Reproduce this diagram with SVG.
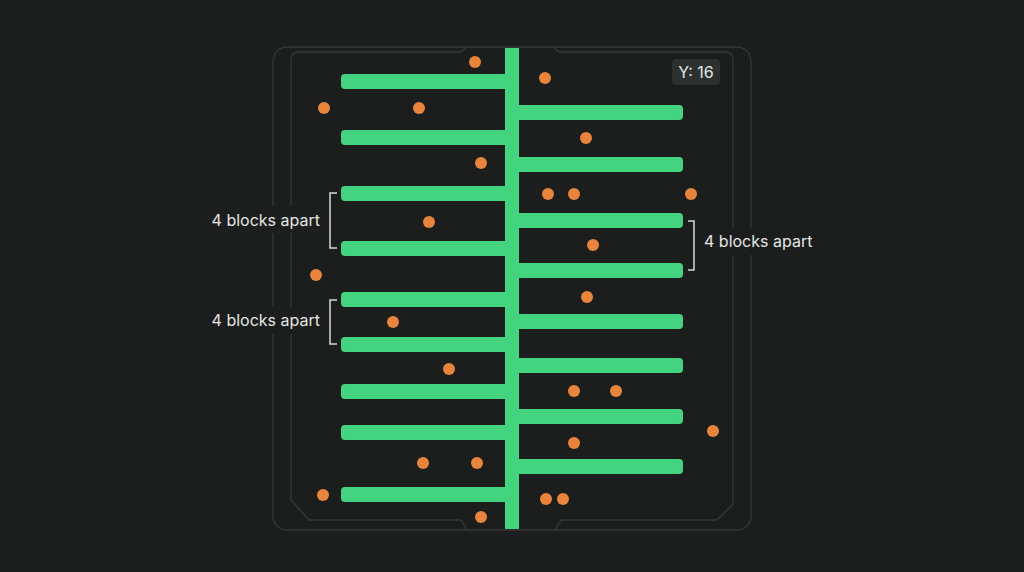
<svg xmlns="http://www.w3.org/2000/svg" width="1024" height="572" viewBox="0 0 1024 572">
<style>
.frame{fill:none;stroke:#343937;stroke-width:1.3}
.bar{fill:#44d480}
.dot{fill:#e8843b}
.br{fill:none;stroke:#d6d8d7;stroke-width:1.5}
.lbl{font-family:Inter,"Liberation Sans",sans-serif;font-size:16px;fill:#e4e6e5}
.bg{fill:#1c1e1d}
</style>
<rect width="1024" height="572" fill="#1c1e1d"/>
<g id="frame">
<rect class="frame" x="273" y="47" width="478" height="483" rx="14"/>
<path class="frame" d="M467,47 L461,52 L299,52 Q291,52 291,60 L291,500 L309,520 L461,520 L467,530"/>
<path class="frame" d="M553,47 L559,52 L725,52 Q733,52 733,60 L733,504 L717,520 L561,520 L555,530"/>
</g>
<g id="trunk"><rect class="bar" x="505" y="48" width="14" height="481"/></g>
<g id="left-bars">
<rect class="bar" x="341" y="74" width="168" height="15" rx="4"/>
<rect class="bar" x="341" y="130" width="168" height="15" rx="4"/>
<rect class="bar" x="341" y="186" width="168" height="15" rx="4"/>
<rect class="bar" x="341" y="241" width="168" height="15" rx="4"/>
<rect class="bar" x="341" y="292" width="168" height="15" rx="4"/>
<rect class="bar" x="341" y="337" width="168" height="15" rx="4"/>
<rect class="bar" x="341" y="384" width="168" height="15" rx="4"/>
<rect class="bar" x="341" y="425" width="168" height="15" rx="4"/>
<rect class="bar" x="341" y="487" width="168" height="15" rx="4"/>
</g>
<g id="right-bars">
<rect class="bar" x="515" y="105" width="168" height="15" rx="4"/>
<rect class="bar" x="515" y="157" width="168" height="15" rx="4"/>
<rect class="bar" x="515" y="213" width="168" height="15" rx="4"/>
<rect class="bar" x="515" y="263" width="168" height="15" rx="4"/>
<rect class="bar" x="515" y="314" width="168" height="15" rx="4"/>
<rect class="bar" x="515" y="358" width="168" height="15" rx="4"/>
<rect class="bar" x="515" y="409" width="168" height="15" rx="4"/>
<rect class="bar" x="515" y="459" width="168" height="15" rx="4"/>
</g>
<g id="dots">
<circle class="dot" cx="475" cy="62" r="6"/>
<circle class="dot" cx="545" cy="78" r="6"/>
<circle class="dot" cx="324" cy="108" r="6"/>
<circle class="dot" cx="419" cy="108" r="6"/>
<circle class="dot" cx="586" cy="138" r="6"/>
<circle class="dot" cx="481" cy="163" r="6"/>
<circle class="dot" cx="548" cy="194" r="6"/>
<circle class="dot" cx="574" cy="194" r="6"/>
<circle class="dot" cx="691" cy="194" r="6"/>
<circle class="dot" cx="429" cy="222" r="6"/>
<circle class="dot" cx="593" cy="245" r="6"/>
<circle class="dot" cx="316" cy="275" r="6"/>
<circle class="dot" cx="587" cy="297" r="6"/>
<circle class="dot" cx="393" cy="322" r="6"/>
<circle class="dot" cx="449" cy="369" r="6"/>
<circle class="dot" cx="574" cy="391" r="6"/>
<circle class="dot" cx="616" cy="391" r="6"/>
<circle class="dot" cx="713" cy="431" r="6"/>
<circle class="dot" cx="574" cy="443" r="6"/>
<circle class="dot" cx="423" cy="463" r="6"/>
<circle class="dot" cx="477" cy="463" r="6"/>
<circle class="dot" cx="323" cy="495" r="6"/>
<circle class="dot" cx="546" cy="499" r="6"/>
<circle class="dot" cx="563" cy="499" r="6"/>
<circle class="dot" cx="481" cy="517" r="6"/>
</g>
<g id="label-left-1">
<rect class="bg" x="207" y="206" width="116" height="27"/>
<path class="br" d="M337,193 H330 V248 H337"/>
<text class="lbl" x="320" y="226" text-anchor="end">4 blocks apart</text>
</g>
<g id="label-left-2">
<rect class="bg" x="207" y="307" width="116" height="27"/>
<path class="br" d="M337,300 H330 V344 H337"/>
<text class="lbl" x="320" y="326" text-anchor="end">4 blocks apart</text>
</g>
<g id="label-right">
<rect class="bg" x="701" y="228" width="116" height="27"/>
<path class="br" d="M688,221 H694 V270 H688"/>
<text class="lbl" x="704" y="247">4 blocks apart</text>
</g>
<g id="y-label">
<rect x="672" y="59" width="48" height="26" rx="5" fill="#2c302f"/>
<text class="lbl" x="696" y="78" text-anchor="middle">Y: 16</text>
</g>
</svg>
